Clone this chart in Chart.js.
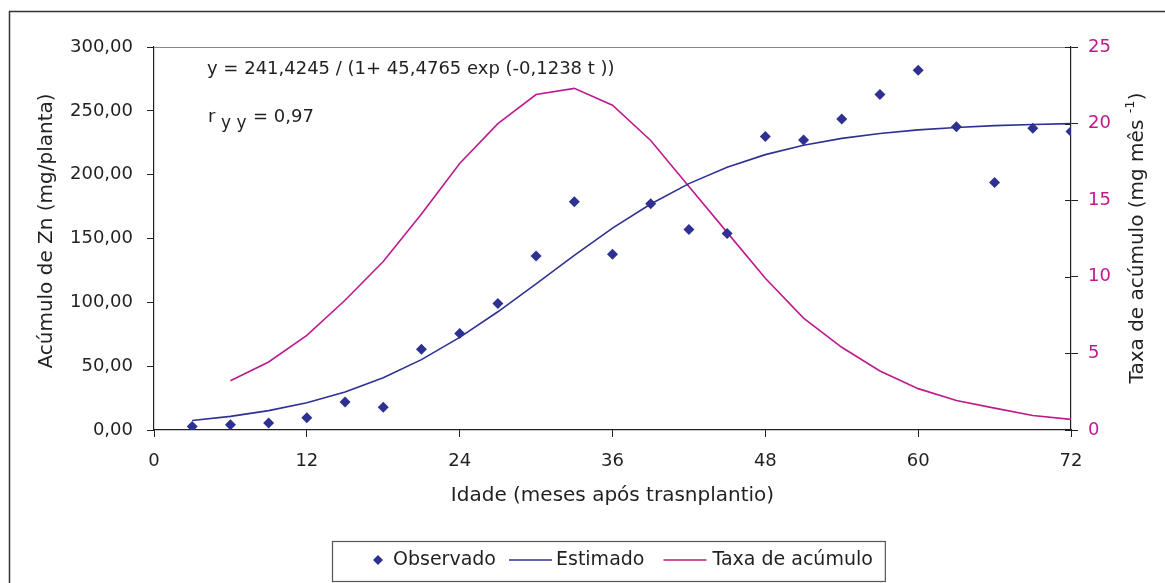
<!DOCTYPE html>
<html>
<head>
<meta charset="utf-8">
<script src="https://cdn.jsdelivr.net/npm/chart.js@4/dist/chart.umd.min.js"></script>
<style>
  html, body { margin: 0; padding: 0; background: #fff; }
  canvas { display: block; }
</style>
</head>
<body>
<canvas id="chart" width="1165" height="583"></canvas>
<script>
// idade (meses) e valores
const meses = [3, 6, 9, 12, 15, 18, 21, 24, 27, 30, 33, 36, 39, 42, 45, 48, 51, 54, 57, 60, 63, 66, 69, 72];
const observado = [2.8, 4.1, 5.4, 9.6, 21.9, 17.9, 63.2, 75.5, 99.1, 136.3, 178.7, 137.6, 177.3, 157.0, 154.0, 229.9, 227.1, 243.6, 262.7, 281.8, 237.6, 193.8, 236.3, 233.9];
const estimado = [7.5, 10.7, 15.2, 21.4, 29.8, 40.9, 55.1, 72.5, 92.6, 114.5, 136.8, 158.1, 177.0, 193.0, 205.8, 215.7, 223.1, 228.4, 232.3, 235.1, 237.0, 238.4, 239.3, 240.0];
const mesesTaxa = [6, 9, 12, 15, 18, 21, 24, 27, 30, 33, 36, 39, 42, 45, 48, 51, 54, 57, 60, 63, 66, 69, 72];
const taxa = [3.22, 4.44, 6.18, 8.47, 11.0, 14.1, 17.4, 20.0, 21.9, 22.3, 21.2, 18.9, 15.9, 12.9, 9.9, 7.3, 5.4, 3.85, 2.7, 1.93, 1.43, 0.95, 0.69];

const xTicks = [0, 12, 24, 36, 48, 60, 72];
const legendLabels = ['Observado', 'Estimado', 'Taxa de acúmulo'];
const equacao = 'y = 241,4245 / (1+ 45,4765 exp (-0,1238 t ))';
const tituloY = 'Acúmulo de Zn (mg/planta)';

const AZUL = '#2e3192';
const MAGENTA = '#bd1a8d';
const PRETO = '#231f20';
const FONTE = '"DejaVu Sans", sans-serif';

const pts = (xs, ys) => xs.map((x, i) => ({ x, y: ys[i] }));

// desenhos extras: moldura, borda superior, textos, legenda
const extras = {
  id: 'extras',
  afterDraw(chart) {
    const ctx = chart.ctx;
    const a = chart.chartArea;
    const y1 = chart.scales.y1;
    ctx.save();

    // moldura externa
    ctx.strokeStyle = '#333';
    ctx.lineWidth = 1.5;
    ctx.strokeRect(9.5, 11.5, 1300, 700);

    // borda superior da área
    ctx.strokeStyle = '#888';
    ctx.lineWidth = 1.2;
    ctx.beginPath();
    ctx.moveTo(a.left, a.top + 0.5);
    ctx.lineTo(a.right, a.top + 0.5);
    ctx.stroke();

    // marcas internas do eixo direito
    ctx.strokeStyle = PRETO;
    ctx.lineWidth = 1;
    y1.ticks.forEach(t => {
      const py = Math.round(y1.getPixelForValue(t.value)) + 0.5;
      ctx.beginPath();
      ctx.moveTo(a.right - 6, py);
      ctx.lineTo(a.right, py);
      ctx.stroke();
    });

    // equação e r
    ctx.fillStyle = PRETO;
    ctx.textBaseline = 'alphabetic';
    ctx.textAlign = 'left';
    ctx.font = '18px ' + FONTE;
    ctx.fillText(equacao, 207, 74);
    ctx.fillText('r', 208, 122);
    ctx.font = '17px ' + FONTE;
    ctx.fillText('y y', 221, 128);
    ctx.font = '18px ' + FONTE;
    ctx.fillText('= 0,97', 253, 122);

    // título do eixo esquerdo
    ctx.save();
    ctx.translate(47, 231);
    ctx.rotate(-Math.PI / 2);
    ctx.textAlign = 'center';
    ctx.textBaseline = 'middle';
    ctx.font = '20px ' + FONTE;
    ctx.fillText(tituloY, 0, 0);
    ctx.restore();

    // título do eixo direito
    ctx.translate(1143, 238);
    ctx.rotate(-Math.PI / 2);
    const t1 = 'Taxa de acúmulo (mg mês ';
    const sup = '-1';
    const t2 = ')';
    ctx.font = '20px ' + FONTE;
    const w1 = ctx.measureText(t1).width;
    const w3 = ctx.measureText(t2).width;
    ctx.font = '13px ' + FONTE;
    const w2 = ctx.measureText(sup).width;
    let x0 = -(w1 + w2 + w3) / 2;
    ctx.font = '20px ' + FONTE;
    ctx.fillText(t1, x0, 0);
    ctx.font = '13px ' + FONTE;
    ctx.fillText(sup, x0 + w1, -9);
    ctx.font = '20px ' + FONTE;
    ctx.fillText(t2, x0 + w1 + w2, 0);
    ctx.setTransform(1, 0, 0, 1, 0, 0);

    // legenda
    const ly = 560;
    ctx.font = '19px ' + FONTE;
    ctx.textBaseline = 'middle';
    let x = 372;
    const startX = 332;
    // losango
    ctx.fillStyle = AZUL;
    ctx.beginPath();
    ctx.moveTo(x + 6, ly - 5);
    ctx.lineTo(x + 11, ly);
    ctx.lineTo(x + 6, ly + 5);
    ctx.lineTo(x + 1, ly);
    ctx.closePath();
    ctx.fill();
    x += 21;
    ctx.fillStyle = PRETO;
    ctx.fillText(legendLabels[0], x, ly);
    x += ctx.measureText(legendLabels[0]).width + 13;
    [[AZUL, legendLabels[1], 4, 19], [MAGENTA, legendLabels[2], 6, 12]].forEach(([cor, txt, gap, after]) => {
      ctx.strokeStyle = cor;
      ctx.lineWidth = 1.6;
      ctx.beginPath();
      ctx.moveTo(x, ly);
      ctx.lineTo(x + 43, ly);
      ctx.stroke();
      x += 43 + gap;
      ctx.fillStyle = PRETO;
      ctx.fillText(txt, x, ly);
      x += ctx.measureText(txt).width + after;
    });
    ctx.strokeStyle = '#555';
    ctx.lineWidth = 1.2;
    ctx.strokeRect(startX + 0.5, 541.5, x - startX, 40);

    ctx.restore();
  }
};

const gridOpts = {
  display: true,
  drawOnChartArea: false,
  drawTicks: true,
  tickLength: 7,
  color: PRETO,
  lineWidth: 1
};

new Chart(document.getElementById('chart'), {
  type: 'line',
  data: {
    datasets: [
      {
        label: legendLabels[0],
        data: pts(meses, observado),
        showLine: false,
        pointStyle: 'rectRot',
        pointRadius: 5.5,
        pointBackgroundColor: AZUL,
        pointBorderColor: AZUL,
        pointBorderWidth: 0,
        yAxisID: 'y',
        order: 0
      },
      {
        label: legendLabels[1],
        data: pts(meses, estimado),
        borderColor: AZUL,
        borderWidth: 1.6,
        pointRadius: 0,
        tension: 0,
        yAxisID: 'y',
        order: 1
      },
      {
        label: legendLabels[2],
        data: pts(mesesTaxa, taxa),
        borderColor: MAGENTA,
        borderWidth: 1.6,
        pointRadius: 0,
        tension: 0,
        yAxisID: 'y1',
        order: 2
      }
    ]
  },
  options: {
    responsive: false,
    animation: false,
    devicePixelRatio: 1,
    layout: { padding: { top: 47, left: 0, right: 0, bottom: 53 } },
    plugins: {
      legend: { display: false },
      tooltip: { enabled: false }
    },
    scales: {
      x: {
        type: 'linear',
        min: 0,
        max: 72,
        afterBuildTicks: s => { s.ticks = xTicks.map(v => ({ value: v })); },
        afterFit: s => { s.height = 100; },
        grid: gridOpts,
        border: { color: PRETO, width: 1.2 },
        ticks: { color: PRETO, font: { family: FONTE, size: 18 }, padding: 14, maxRotation: 0 },
        title: {
          display: true,
          text: 'Idade (meses após trasnplantio)',
          color: PRETO,
          font: { family: FONTE, size: 20 },
          padding: { top: 0, bottom: 22 }
        }
      },
      y: {
        position: 'left',
        min: 0,
        max: 300,
        afterFit: s => { s.width = 154; },
        grid: gridOpts,
        border: { color: PRETO, width: 1.2 },
        ticks: {
          stepSize: 50,
          color: PRETO,
          font: { family: FONTE, size: 18 },
          padding: 14,
          callback: v => v.toFixed(2).replace('.', ',')
        }
      },
      y1: {
        position: 'right',
        min: 0,
        max: 25,
        afterFit: s => { s.width = 94; },
        grid: gridOpts,
        border: { color: PRETO, width: 1.2 },
        ticks: {
          stepSize: 5,
          color: MAGENTA,
          font: { family: FONTE, size: 18 },
          padding: 10
        }
      }
    }
  },
  plugins: [extras]
});
</script>
</body>
</html>
